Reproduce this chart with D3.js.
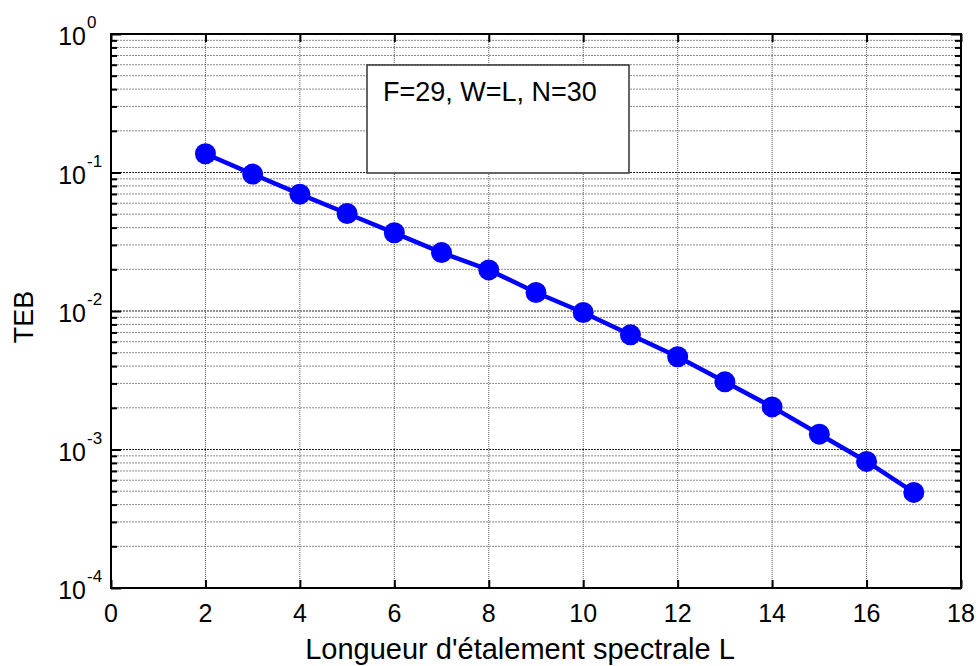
<!DOCTYPE html>
<html>
<head>
<meta charset="utf-8">
<script src="https://cdn.jsdelivr.net/npm/d3@7"></script>
<style>
  html, body { margin: 0; padding: 0; background: #fff; }
  svg { display: block; font-family: "Liberation Sans", Arial, sans-serif; }
</style>
</head>
<body>
<svg id="chart" width="980" height="666"></svg>
<script>
// ---- data ----
const spreadLength = [2, 3, 4, 5, 6, 7, 8, 9, 10, 11, 12, 13, 14, 15, 16, 17];
const teb = [0.1365, 0.0974, 0.0698, 0.0506, 0.0367, 0.0264, 0.0198, 0.0136, 0.00975, 0.00673, 0.00467, 0.00308, 0.00203, 0.00129, 0.00082, 0.00049];
const xTicks = [0, 2, 4, 6, 8, 10, 12, 14, 16, 18];
const yDecades = [-4, -3, -2, -1, 0];
const legendText = "F=29, W=L, N=30";
const xLabel = "Longueur d'étalement spectrale L";
const yLabel = "TEB";

// ---- layout ----
const pL = 111, pR = 961, pT = 34, pB = 588;
const svg = d3.select("#chart");

const x = d3.scaleLinear().domain([0, 18]).range([pL, pR]);
const y = d3.scaleLog().domain([1e-4, 1]).range([pB, pT]);

// minor values
const minorVals = [];
for (let d = -4; d < 0; d++) {
  for (let m = 2; m <= 9; m++) minorVals.push(m * Math.pow(10, d));
}

const grid = svg.append("g");
grid.selectAll("line.minor").data(minorVals).join("line")
  .attr("x1", pL).attr("x2", pR)
  .attr("y1", d => y(d)).attr("y2", d => y(d))
  .attr("stroke", "#8a8a8a").attr("stroke-width", 1).attr("stroke-dasharray", "2,1");
grid.selectAll("line.major").data(yDecades.slice(1, -1)).join("line")
  .attr("x1", pL).attr("x2", pR)
  .attr("y1", d => y(Math.pow(10, d))).attr("y2", d => y(Math.pow(10, d)))
  .attr("stroke", "#222").attr("stroke-width", 1).attr("stroke-dasharray", "2,1");
grid.selectAll("line.vx").data(xTicks.slice(1, -1)).join("line")
  .attr("x1", d => x(d)).attr("x2", d => x(d))
  .attr("y1", pT).attr("y2", pB)
  .attr("stroke", "#555").attr("stroke-width", 1).attr("stroke-dasharray", "1,1");

const axB = d3.axisBottom(x).tickValues(xTicks).tickSize(-8).tickFormat("");
const axT = d3.axisTop(x).tickValues(xTicks).tickSize(-8).tickFormat("");
const axL = d3.axisLeft(y).tickValues(yDecades.map(d => Math.pow(10, d))).tickSize(-10).tickFormat("");
const axR = d3.axisRight(y).tickValues(yDecades.map(d => Math.pow(10, d))).tickSize(-10).tickFormat("");
const axLm = d3.axisLeft(y).tickValues(minorVals).tickSize(-6).tickFormat("");
const axRm = d3.axisRight(y).tickValues(minorVals).tickSize(-6).tickFormat("");

function styleAxis(g) {
  g.select(".domain").remove();
  g.selectAll(".tick line").attr("stroke", "#000").attr("stroke-width", 2);
}
svg.append("g").attr("transform", `translate(0,${pB})`).call(axB).call(styleAxis);
svg.append("g").attr("transform", `translate(0,${pT})`).call(axT).call(styleAxis);
svg.append("g").attr("transform", `translate(${pL},0)`).call(axL).call(styleAxis);
svg.append("g").attr("transform", `translate(${pR},0)`).call(axR).call(styleAxis);
svg.append("g").attr("transform", `translate(${pL},0)`).call(axLm).call(styleAxis);
svg.append("g").attr("transform", `translate(${pR},0)`).call(axRm).call(styleAxis);

// x tick labels
svg.append("g").selectAll("text").data(xTicks).join("text")
  .attr("x", d => x(d)).attr("y", 622)
  .attr("text-anchor", "middle").attr("font-size", 25).attr("fill", "#000")
  .text(d => d);

// y tick labels (10^n)
svg.append("g").selectAll("text").data(yDecades).join("text")
  .attr("x", 86).attr("y", d => y(Math.pow(10, d)) + 11)
  .attr("text-anchor", "end").attr("font-size", 25).attr("fill", "#000")
  .text("10");
svg.append("g").selectAll("text").data(yDecades).join("text")
  .attr("x", 87).attr("y", d => y(Math.pow(10, d)) - 6)
  .attr("text-anchor", "start").attr("font-size", 17).attr("fill", "#000")
  .text(d => String(d));

// line + markers
const line = d3.line().x((d, i) => x(spreadLength[i])).y(d => y(d));
svg.append("path").datum(teb)
  .attr("d", line).attr("fill", "none")
  .attr("stroke", "#0000ff").attr("stroke-width", 4.5);
svg.append("g").selectAll("circle").data(teb).join("circle")
  .attr("cx", (d, i) => x(spreadLength[i])).attr("cy", d => y(d))
  .attr("r", 10.5).attr("fill", "#0000ff");

// legend box
svg.append("rect")
  .attr("x", 367).attr("y", 65).attr("width", 262).attr("height", 108)
  .attr("fill", "#fff").attr("stroke", "#333").attr("stroke-width", 1.5);
svg.append("text").attr("x", 383).attr("y", 101)
  .attr("font-size", 27).attr("fill", "#000").text(legendText);

// axes box
svg.append("rect")
  .attr("x", pL).attr("y", pT).attr("width", pR - pL).attr("height", pB - pT)
  .attr("fill", "none").attr("stroke", "#000").attr("stroke-width", 2);

// axis labels
svg.append("text").attr("x", 520).attr("y", 659)
  .attr("text-anchor", "middle").attr("font-size", 29).attr("fill", "#000")
  .text(xLabel);
svg.append("text")
  .attr("transform", `translate(33,${(pT + pB) / 2 + 6}) rotate(-90)`)
  .attr("text-anchor", "middle").attr("font-size", 27).attr("fill", "#000")
  .text(yLabel);
</script>
</body>
</html>
